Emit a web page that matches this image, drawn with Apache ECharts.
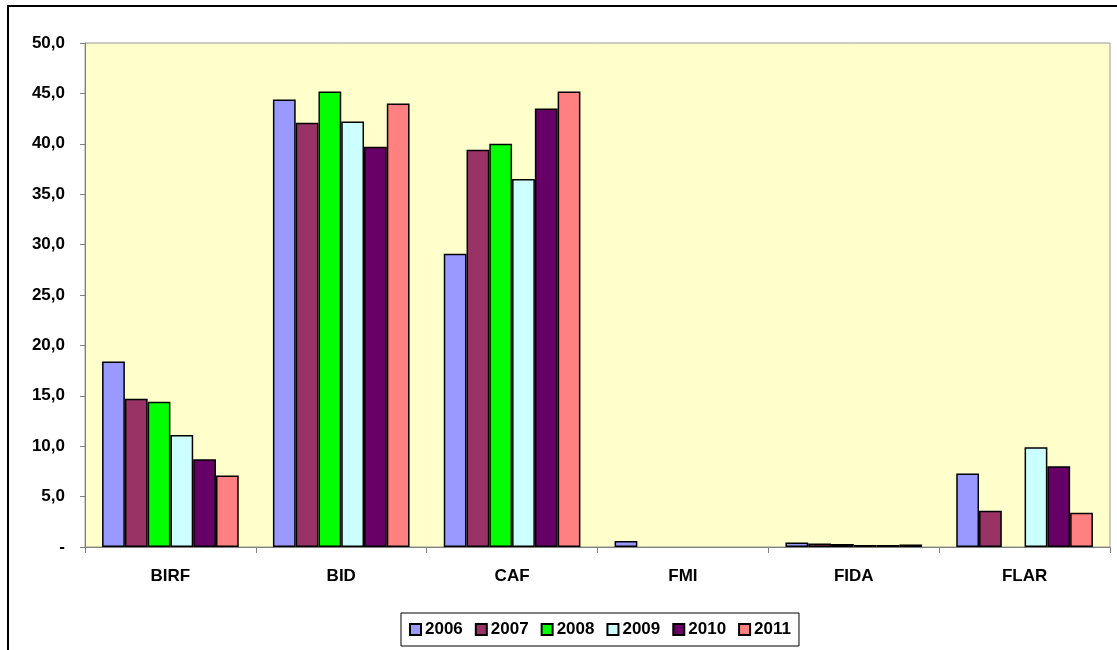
<!DOCTYPE html>
<html>
<head>
<meta charset="utf-8">
<script src="https://cdn.jsdelivr.net/npm/echarts@6/dist/echarts.min.js"></script>
<style>
html,body{margin:0;padding:0;background:#fff;}
#c{width:1117px;height:650px;}
</style>
</head>
<body>
<div id="c"></div>
<script>
const categories = ['BIRF', 'BID', 'CAF', 'FMI', 'FIDA', 'FLAR'];
const years = ['2006', '2007', '2008', '2009', '2010', '2011'];
const v2006 = [18.4, 44.4, 29.1, 0.6, 0.45, 7.3];
const v2007 = [14.7, 42.1, 39.4, null, 0.35, 3.6];
const v2008 = [14.4, 45.2, 40.0, null, 0.3, null];
const v2009 = [11.1, 42.2, 36.5, null, 0.2, 9.9];
const v2010 = [8.7, 39.7, 43.5, null, 0.2, 8.0];
const v2011 = [7.1, 44.0, 45.2, null, 0.25, 3.4];
const seriesValues = [v2006, v2007, v2008, v2009, v2010, v2011];
const colors = ['#9999FF', '#993366', '#00FF00', '#CCFFFF', '#660066', '#FF8080'];

const FONT = "'Liberation Sans', Arial, sans-serif";
const chart = echarts.init(document.getElementById('c'), null, {renderer: 'canvas'});

chart.setOption({
  animation: false,
  backgroundColor: '#ffffff',
  textStyle: {fontFamily: FONT},
  graphic: [{
    type: 'rect',
    shape: {x: 8, y: 6, width: 1200, height: 700},
    style: {fill: 'none', stroke: '#000', lineWidth: 2},
    silent: true
  }],
  grid: {
    left: 85, right: 7, top: 43, bottom: 103,
    show: true, backgroundColor: '#FFFFCC', borderColor: '#999999', borderWidth: 1
  },
  legend: {
    data: years,
    left: 401, top: 613,
    padding: [8, 8],
    itemGap: 12,
    itemWidth: 11, itemHeight: 11,
    icon: 'rect',
    borderColor: '#000', borderWidth: 1,
    textStyle: {fontFamily: FONT, fontWeight: 'bold', fontSize: 17, color: '#000', padding: [0, 0, 0, -1]}
  },
  xAxis: {
    type: 'category',
    data: categories,
    axisLine: {lineStyle: {color: '#808080', width: 1}},
    axisTick: {show: true, length: 6, lineStyle: {color: '#808080'}},
    axisLabel: {margin: 21, fontFamily: FONT, fontWeight: 'bold', fontSize: 17, color: '#000'},
    splitLine: {show: false}
  },
  yAxis: {
    type: 'value',
    min: 0, max: 50, interval: 5,
    axisLine: {show: true, lineStyle: {color: '#808080', width: 1}},
    axisTick: {show: true, length: 5, lineStyle: {color: '#808080'}},
    axisLabel: {
      margin: 20, fontFamily: FONT, fontWeight: 'bold', fontSize: 17, color: '#000',
      formatter: function (v) { return v === 0 ? '-' : v.toFixed(1).replace('.', ','); }
    },
    splitLine: {show: false}
  },
  series: years.map(function (y, i) {
    return {
      name: y,
      type: 'bar',
      data: seriesValues[i],
      barGap: '0%',
      barCategoryGap: '20%',
      itemStyle: {color: colors[i], borderColor: '#000', borderWidth: 1.5}
    };
  })
});
</script>
</body>
</html>
